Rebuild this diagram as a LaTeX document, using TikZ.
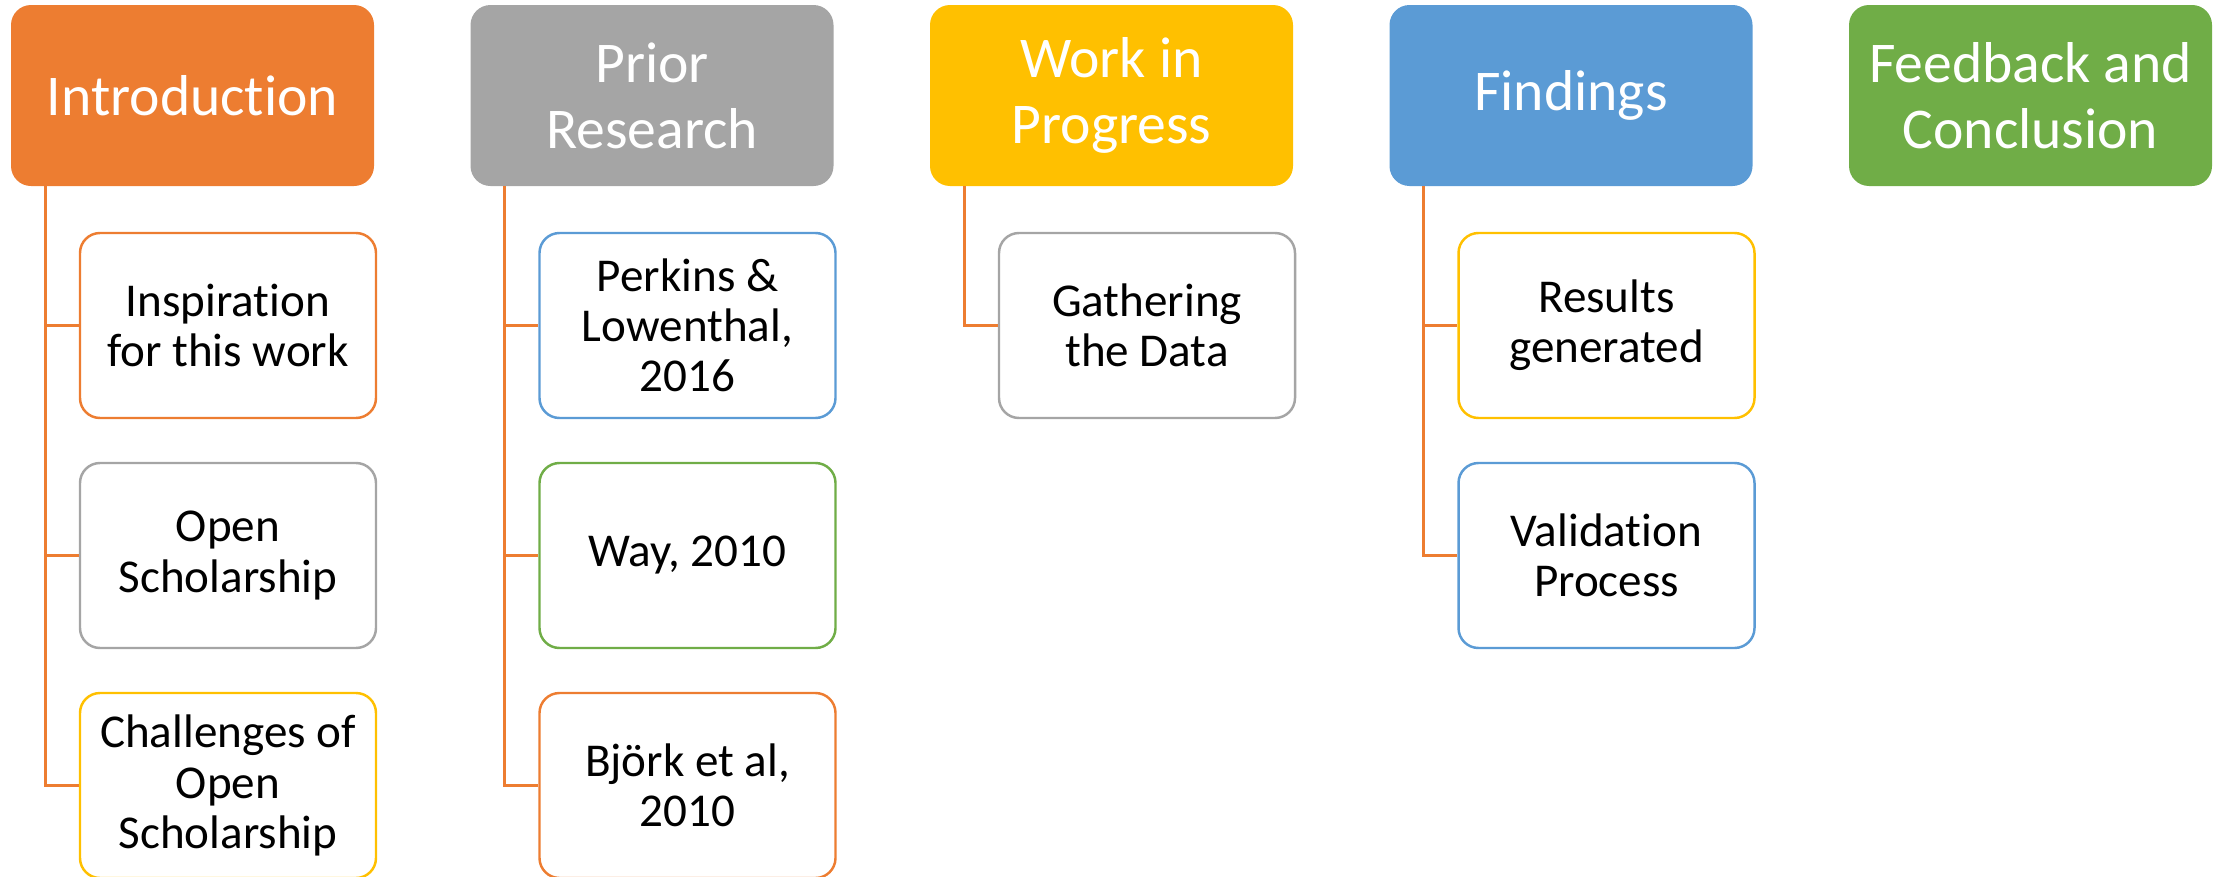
\documentclass[tikz,border=0pt]{standalone}
\usepackage{fontspec}
\setmainfont{Carlito}[Ligatures=NoCommon]
\definecolor{accOrange}{HTML}{ED7D31}
\definecolor{accGray}{HTML}{A5A5A5}
\definecolor{accGold}{HTML}{FFC000}
\definecolor{accBlue}{HTML}{5B9BD5}
\definecolor{accGreen}{HTML}{70AD47}
\begin{document}
\begin{tikzpicture}
    \tikzset{head/.style={rectangle,rounded corners=0.4cm,minimum width=7.26cm,minimum height=3.62cm,inner sep=0pt,text=white,align=center,font=\fontsize{32.8}{37.5}\selectfont},
             item/.style={rectangle,draw,rounded corners=0.4cm,line width=1.4pt,fill=white,minimum width=5.92cm,minimum height=3.7cm,inner sep=0pt,align=center,font=\fontsize{26.8}{28.5}\selectfont},
             link/.style={draw=accOrange,line width=1.6pt}}
    \useasboundingbox (0,0) rectangle (44.52,-17.52);
    % section headers
    \node[head,fill=accOrange] (intro) at (3.85,-1.91) {Introduction};
    \node[head,fill=accGray] (prior) at (13.04,-1.91) {Prior\\Research};
    \node[head,fill=accGold] (wip) at (22.23,-1.91) {Work in\\Progress};
    \node[head,fill=accBlue] (find) at (31.42,-1.91) {Findings};
    \node[head,fill=accGreen] (concl) at (40.61,-1.91) {Feedback and\\Conclusion};
    % sub topics
    \node[item,draw=accOrange] (intro1) at (4.56,-6.51) {Inspiration\\for this work};
    \node[item,draw=accGray] (intro2) at (4.56,-11.11) {Open\\Scholarship};
    \node[item,draw=accGold] (intro3) at (4.56,-15.71) {Challenges of\\Open\\Scholarship};
    \node[item,draw=accBlue] (prior1) at (13.75,-6.51) {Perkins \&\\Lowenthal,\\2016};
    \node[item,draw=accGreen] (prior2) at (13.75,-11.11) {Way, 2010};
    \node[item,draw=accOrange] (prior3) at (13.75,-15.71) {Björk et al,\\2010};
    \node[item,draw=accGray] (wip1) at (22.94,-6.51) {Gathering\\the Data};
    \node[item,draw=accGold] (find1) at (32.13,-6.51) {Results\\generated};
    \node[item,draw=accBlue] (find2) at (32.13,-11.11) {Validation\\Process};
    % tree lines
    \coordinate (introT) at ([xshift=0.69cm]intro.south west);
    \coordinate (priorT) at ([xshift=0.69cm]prior.south west);
    \coordinate (wipT) at ([xshift=0.69cm]wip.south west);
    \coordinate (findT) at ([xshift=0.69cm]find.south west);
    \draw[link] (introT) |- (intro1.west) (introT) |- (intro2.west) (introT) |- (intro3.west);
    \draw[link] (priorT) |- (prior1.west) (priorT) |- (prior2.west) (priorT) |- (prior3.west);
    \draw[link] (wipT) |- (wip1.west);
    \draw[link] (findT) |- (find1.west) (findT) |- (find2.west);
\end{tikzpicture}
\end{document}
